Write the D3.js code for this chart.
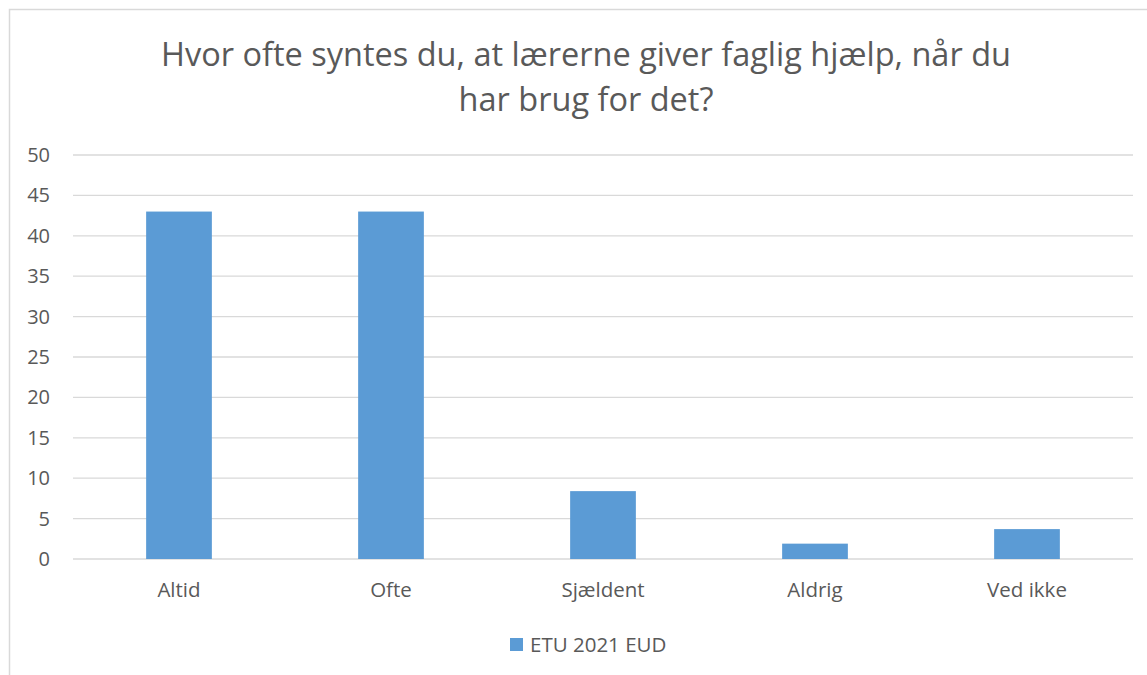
<!DOCTYPE html>
<html>
<head>
<meta charset="utf-8">
<script src="https://cdn.jsdelivr.net/npm/d3@7"></script>
<style>
  body { margin: 0; background: #fff; }
  svg text { font-family: "Open Sans", "Noto Sans", sans-serif; fill: #595959; }
</style>
</head>
<body>
<div id="chart"></div>
<script>
  const categories = ['Altid', 'Ofte', 'Sjældent', 'Aldrig', 'Ved ikke'];
  const values = [43, 43, 8.4, 1.9, 3.7];
  const yTicks = [0, 5, 10, 15, 20, 25, 30, 35, 40, 45, 50];
  const seriesName = 'ETU 2021 EUD';
  const titleLines = ['Hvor ofte syntes du, at lærerne giver faglig hjælp, når du', 'har brug for det?'];

  const width = 1147;
  const height = 675;
  const margin = { top: 155, right: 14, bottom: 116, left: 73 };

  const svg = d3.select('#chart')
    .append('svg')
    .attr('width', width)
    .attr('height', height);

  // chart frame (runs off the right and bottom edges)
  svg.append('rect')
    .attr('x', 9.5)
    .attr('y', 9.5)
    .attr('width', width + 10)
    .attr('height', height + 10)
    .attr('fill', 'none')
    .attr('stroke', '#d9d9d9')
    .attr('stroke-width', 1.5);

  const x = d3.scaleBand()
    .domain(categories)
    .range([margin.left, width - margin.right])
    .paddingInner(0.69)
    .paddingOuter(0.345);

  const y = d3.scaleLinear()
    .domain([0, 50])
    .range([height - margin.bottom, margin.top]);

  // gridlines
  svg.append('g')
    .selectAll('line')
    .data(yTicks)
    .enter()
    .append('line')
    .attr('x1', margin.left)
    .attr('x2', width - margin.right)
    .attr('y1', d => y(d))
    .attr('y2', d => y(d))
    .attr('stroke', '#d9d9d9')
    .attr('stroke-width', 1.3);

  // y tick labels
  svg.append('g')
    .selectAll('text')
    .data(yTicks)
    .enter()
    .append('text')
    .attr('x', 50)
    .attr('y', d => y(d))
    .attr('dy', '0.35em')
    .attr('text-anchor', 'end')
    .style('font-size', '20px')
    .text(d => d);

  // bars
  svg.append('g')
    .selectAll('rect')
    .data(values)
    .enter()
    .append('rect')
    .attr('x', (d, i) => x(categories[i]))
    .attr('y', d => y(d))
    .attr('width', x.bandwidth())
    .attr('height', d => y(0) - y(d))
    .attr('fill', '#5b9bd5');

  // category labels
  svg.append('g')
    .selectAll('text')
    .data(categories)
    .enter()
    .append('text')
    .attr('x', d => x(d) + x.bandwidth() / 2)
    .attr('y', 597)
    .attr('text-anchor', 'middle')
    .style('font-size', '20.5px')
    .text(d => d);

  // title
  svg.append('text')
    .attr('x', 586)
    .attr('y', 66)
    .attr('text-anchor', 'middle')
    .style('font-size', '32.5px')
    .selectAll('tspan')
    .data(titleLines)
    .enter()
    .append('tspan')
    .attr('x', 586)
    .attr('dy', (d, i) => i === 0 ? 0 : 45)
    .text(d => d);

  // legend
  const legend = svg.append('g')
    .attr('transform', 'translate(510, 638)');

  legend.append('rect')
    .attr('width', 13)
    .attr('height', 13)
    .attr('fill', '#5b9bd5');

  legend.append('text')
    .attr('x', 20)
    .attr('y', 7)
    .attr('dy', '0.35em')
    .style('font-size', '20.5px')
    .text(seriesName);
</script>
</body>
</html>
